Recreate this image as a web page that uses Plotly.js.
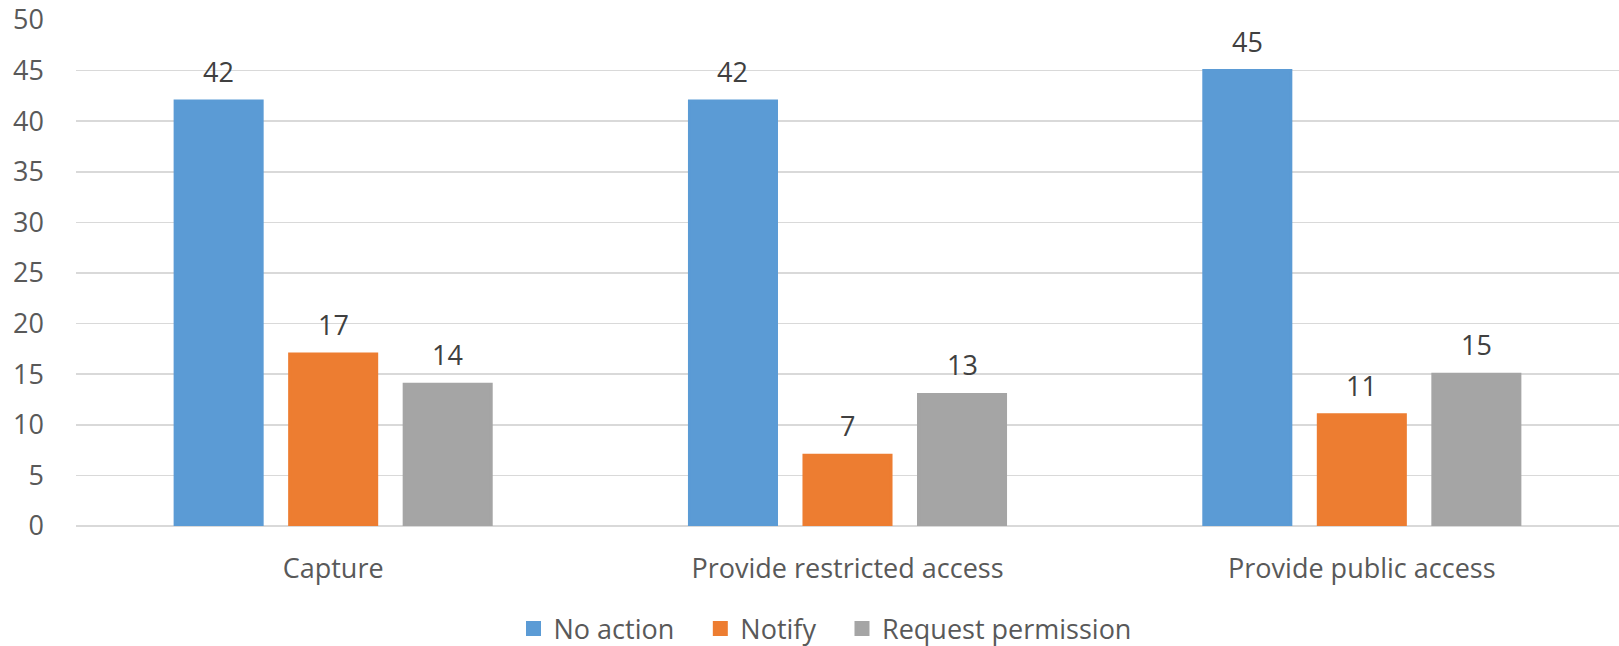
<!DOCTYPE html>
<html>
<head>
<meta charset="utf-8">
<script src="https://cdn.plot.ly/plotly-3.0.1.min.js"></script>
<style>html,body{margin:0;padding:0;background:#fff;}#chart{width:1619px;height:646px;}</style>
</head>
<body>
<div id="chart"></div>
<script>
const categories = ["Capture", "Provide restricted access", "Provide public access"];
const seriesNames = ["No action", "Notify", "Request permission"];
const noAction = [42, 42, 45];
const notify = [17, 7, 11];
const requestPermission = [14, 13, 15];
const yTicks = [0, 5, 10, 15, 20, 25, 30, 35, 40, 45, 50];

const colors = ["#5B9BD5", "#ED7D31", "#A5A5A5"];
const seriesValues = [noAction, notify, requestPermission];

const W = 1619, H = 646;
const margin = {l: 76, r: 0, t: 20, b: 120};
const bargap = 0.332, bargroupgap = 0.24;
const FONT = "'Open Sans', 'Noto Sans', sans-serif";
const FS = 27;
const LEGEND_PAD = "\u00a0\u00a0\u00a0";

const traces = seriesValues.map((vals, i) => ({
  type: "bar",
  name: seriesNames[i] + (i < seriesValues.length - 1 ? LEGEND_PAD : ""),
  x: categories,
  y: vals,
  marker: {color: colors[i], line: {color: colors[i], width: 3}},
  hoverinfo: "x+y"
}));

// data labels placed above each bar
const plotW = W - margin.l - margin.r;
const catW = plotW / categories.length;
const slot = catW * (1 - bargap) / seriesValues.length;
const annotations = [];
seriesValues.forEach((vals, i) => {
  vals.forEach((v, j) => {
    annotations.push({
      x: categories[j], y: v, xref: "x", yref: "y",
      text: String(v), showarrow: false,
      yanchor: "bottom", xanchor: "center",
      xshift: (i - (seriesValues.length - 1) / 2) * slot,
      yshift: 9,
      font: {family: FONT, size: FS, color: "#404040"}
    });
  });
});

const layout = {
  width: W, height: H,
  margin: margin,
  paper_bgcolor: "#ffffff",
  plot_bgcolor: "#ffffff",
  barmode: "group",
  bargap: bargap,
  bargroupgap: bargroupgap,
  font: {family: FONT, size: FS, color: "#595959"},
  xaxis: {
    type: "category",
    showgrid: false,
    showline: false,
    ticks: "",
    ticklabelstandoff: 24,
    tickfont: {family: FONT, size: FS, color: "#595959"}
  },
  yaxis: {
    range: [0, 50],
    tickvals: yTicks,
    ticktext: yTicks.map(String),
    showgrid: true,
    gridcolor: "#D9D9D9",
    gridwidth: 1.5,
    zeroline: true,
    zerolinecolor: "#D9D9D9",
    zerolinewidth: 1.5,
    showline: false,
    ticks: "",
    ticklabelstandoff: 31,
    tickfont: {family: FONT, size: FS, color: "#595959"}
  },
  showlegend: true,
  legend: {
    orientation: "h",
    xref: "container", yref: "container",
    x: 825 / W, xanchor: "center",
    y: 1 - 629 / H, yanchor: "middle",
    font: {family: FONT, size: FS, color: "#595959"},
    itemwidth: 30,
    traceorder: "normal"
  },
  annotations: annotations
};

Plotly.newPlot("chart", traces, layout, {displayModeBar: false, staticPlot: true});
</script>
</body>
</html>
